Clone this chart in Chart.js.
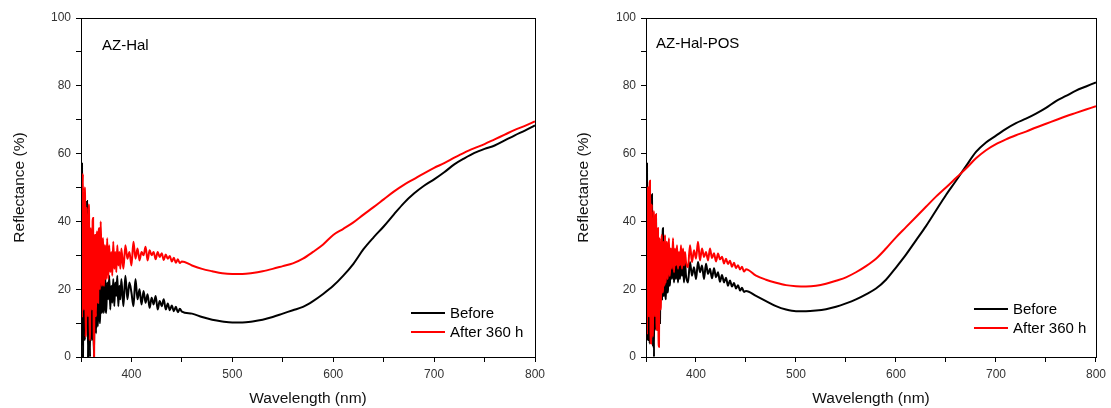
<!DOCTYPE html>
<html>
<head>
<meta charset="utf-8">
<script src="https://cdn.jsdelivr.net/npm/chart.js@4.4.1/dist/chart.umd.min.js"></script>
<style>
  body { margin: 0; background: #fff; }
  canvas { position: absolute; top: 0; }
  #c1 { left: 0; }
  #c2 { left: 560px; }
</style>
</head>
<body>
<canvas id="c1" width="555" height="408"></canvas>
<canvas id="c2" width="551" height="408"></canvas>
<script>
// wavelength (nm), dense where the signal is noisy
let wavelengths = [350,350.5,351,351.5,352,352.5,353,353.5,354,354.5,355,355.5,356,356.5,357,357.5,358,358.5,359,359.5,
  360,360.5,361,361.5,362,362.5,363,363.5,364,364.5,365,365.5,366,366.5,367,367.5,368,368.5,369,369.5,
  370,370.5,371,371.5,372,372.5,373,373.5,374,374.5,375,
  376,377,378,379,380,381,382,383,384,385,386,387,388,389,390,
  392,394,396,398,400,402,404,406,408,410,412,414,416,418,420,422,424,426,428,430,432,434,436,438,440,442,444,446,448,450,
  460,470,480,490,500,510,520,530,540,550,560,570,580,590,600,610,620,630,640,650,660,670,680,690,700,710,720,730,740,750,760,770,780,790,800]

// AZ-Hal, reflectance (%)
let halBefore = [10,40,57,15,0,30,48,8,5,38, 30,12,46,20,0,25,35,10,0,32, 28,5,8,30,22,6,0,24,18,10, 7,22,25,9,12,24,22,10,10,23, 24,13,14,24,21,13,16,25,25,14, 13,
  22,17,24,14,21,16,23,15,22,18,24,15,21,17,23,
  15,24,17,22,19,15,23,17,20,15.5,19.5,16,18.5,14.5,17.5,15.5,18,14,16.5,15,17,14,15.8,13.8,15.2,13.5,14.8,13.2,14.2,13.4,
  12.8,11.8,11.0,10.5,10.2,10.2,10.5,11.0,11.8,12.8,13.8,14.8,16.5,18.6,21.0,24.0,27.5,31.8,35.3,38.5,42.0,45.4,48.2,50.5,52.4,54.5,56.8,58.6,60.2,61.4,62.4,63.9,65.4,66.8,68.3]
let halAfter = [40,18,12,46,54,14,20,50,48,6, 10,42,44,12,15,45,42,5,8,36, 38,14,18,40,41,10,0,33,36,15, 12,37,34,17,16,36,38,21,20,40, 33,21,22,34,35,22,21,33,32,23, 24,
  35,23,33,25,31,24,34,26,31,25,33,27,31,26,32,
  26,33,29,31,27,34,29,32,28.5,31,30,32.5,28.5,31.5,30,31,28.8,31,29.5,30.6,28.6,30.2,29,29.8,28.2,29.3,27.8,28.8,27.7,28.2,
  27.0,26.0,25.3,24.7,24.5,24.5,24.8,25.3,26.0,26.8,27.6,29.0,31.0,33.2,36.0,37.8,39.7,42.0,44.2,46.5,48.8,50.8,52.5,54.2,55.8,57.2,58.8,60.3,61.6,62.8,64.2,65.6,67.0,68.2,69.5]

// AZ-Hal-POS, reflectance (%)
let posBefore = [20,45,57,10,5,38,45,4,8,40, 35,10,48,20,3,28,0,34,30,8, 42,25,12,36,35,16,15,32,10,26, 30,18,17,34,38,19,18,31,33,18, 17,29,28,19,20,30,30,21,22,28, 27,
  23,29,22,27,23,28,22,27,23,28,24,27,22,28,24,
  22,28,24,26.5,23,28,25,27,23,27.5,24.5,26,23.2,26.2,23.5,25,22.2,24.2,22,23.4,21,22.6,20.8,21.8,20.2,21.2,19.6,20.4,19.2,19.5,
  18.0,16.5,15.0,14.0,13.5,13.5,13.7,14.1,14.8,15.8,17.0,18.5,20.2,22.8,26.4,30.2,34.4,38.6,43.2,47.8,52.0,56.3,60.5,63.3,65.3,67.3,69.0,70.3,71.8,73.5,75.5,77.0,78.6,79.8,81.0]
let posAfter = [45,10,7,44,50,15,12,48,52,8, 4,40,45,6,10,43,40,12,15,38, 42,10,8,36,38,6,3,34,35,14, 18,36,33,19,20,33,34,21,36,22, 22,34,33,23,25,32,35,24,24,31, 32,
  26,35,25,32,27,33,26,31,27,33,26,32,27,31,28,
  26.5,33,28,31.5,29,34,28.5,32,29.5,31,28.5,32,29.2,30.6,28.2,30.5,28.8,29.6,27.6,29,27.4,28.4,26.6,27.8,26.2,27.1,25.8,26.6,25.2,25.9,
  24.0,22.8,21.9,21.2,20.9,20.8,21.0,21.6,22.5,23.5,25.0,26.8,29.0,32.0,35.3,38.3,41.3,44.3,47.3,50.0,52.8,55.6,58.6,61.0,62.8,64.2,65.4,66.5,67.7,68.8,69.9,71.0,72.0,73.0,74.0]

let seriesNames = ['Before', 'After 360 h']
let seriesColors = ['#000000', '#ff0000']

const FONT = '"Liberation Sans", Arial, sans-serif'

function toPoints(values){
  let pts = []
  values.forEach(function(v, i){
    pts.push({ x: wavelengths[i], y: v })
  })
  return pts
}

// frame, sample name and the little legend inside the plot
let framePlugin = {
  id: 'frame',
  afterDatasetsDraw(chart, args, opts){
    let ctx = chart.ctx
    let a = chart.chartArea
    ctx.save()
    ctx.strokeStyle = '#000'
    ctx.lineWidth = 1
    ctx.strokeRect(Math.round(a.left) + 0.5, Math.round(a.top) + 0.5, Math.round(a.right - a.left), Math.round(a.bottom - a.top))

    ctx.fillStyle = '#000'
    ctx.textBaseline = 'middle'
    ctx.font = '15px ' + FONT
    ctx.fillText(opts.sample, a.left + opts.sampleX, opts.sampleY)

    let lx = a.right - opts.legendRight
    seriesNames.forEach(function(name, i){
      let y = a.bottom - opts.legendBottom + i * 19
      ctx.strokeStyle = seriesColors[i]
      ctx.lineWidth = 2
      ctx.beginPath()
      ctx.moveTo(lx - 34, y)
      ctx.lineTo(lx, y)
      ctx.stroke()
      ctx.fillStyle = '#000'
      ctx.fillText(name, lx + 5, y + 1)
    })
    ctx.restore()
  }
}

function makeChart(id, before, after, opts){
  return new Chart(document.getElementById(id), {
    type: 'line',
    data: {
      datasets: [
        // red is drawn over black, like the original
        { label: seriesNames[0], data: toPoints(before), borderColor: seriesColors[0], borderWidth: 2, pointRadius: 0, cubicInterpolationMode: 'monotone', order: 1 },
        { label: seriesNames[1], data: toPoints(after), borderColor: seriesColors[1], borderWidth: 2, pointRadius: 0, cubicInterpolationMode: 'monotone', order: 0 }
      ]
    },
    options: {
      responsive: false,
      animation: false,
      layout: { padding: { top: 18, right: opts.padRight, left: opts.padLeft, bottom: 0 } },
      plugins: {
        legend: { display: false },
        tooltip: { enabled: false },
        frame: opts
      },
      scales: {
        x: {
          type: 'linear',
          min: 350, max: 800,
          afterFit: function(s){ s.height = 51 },
          border: { display: true, color: '#000', width: 1 },
          grid: { drawOnChartArea: false, drawTicks: true, tickLength: 5, color: '#000' },
          ticks: {
            stepSize: 50, padding: 5, color: '#333', maxRotation: 0,
            font: { family: FONT, size: 12 },
            callback: function(v){ return v % 100 === 0 ? v : '' }
          },
          title: { display: true, text: 'Wavelength (nm)', color: '#111', font: { family: FONT, size: 15.5 }, padding: { top: 0, bottom: 0 } }
        },
        y: {
          min: 0, max: 100,
          afterFit: function(s){ s.width = opts.axisWidth },
          border: { display: true, color: '#000', width: 1 },
          grid: { drawOnChartArea: false, drawTicks: true, tickLength: 5, color: '#000' },
          ticks: {
            stepSize: 10, padding: 5, color: '#333',
            font: { family: FONT, size: 12 },
            callback: function(v){ return v % 20 === 0 ? v : '' }
          },
          title: { display: true, text: 'Reflectance (%)', color: '#111', font: { family: FONT, size: 15.5 }, padding: { top: 10, bottom: 0 } }
        }
      }
    },
    plugins: [framePlugin]
  })
}

makeChart('c1', halBefore, halAfter, {
  padLeft: 0, padRight: 20, axisWidth: 81,
  sample: 'AZ-Hal', sampleX: 21, sampleY: 46,
  legendRight: 90, legendBottom: 44
})

makeChart('c2', posBefore, posAfter, {
  padLeft: 4, padRight: 12, axisWidth: 82,
  sample: 'AZ-Hal-POS', sampleX: 10, sampleY: 44,
  legendRight: 88, legendBottom: 48
})
</script>
</body>
</html>
